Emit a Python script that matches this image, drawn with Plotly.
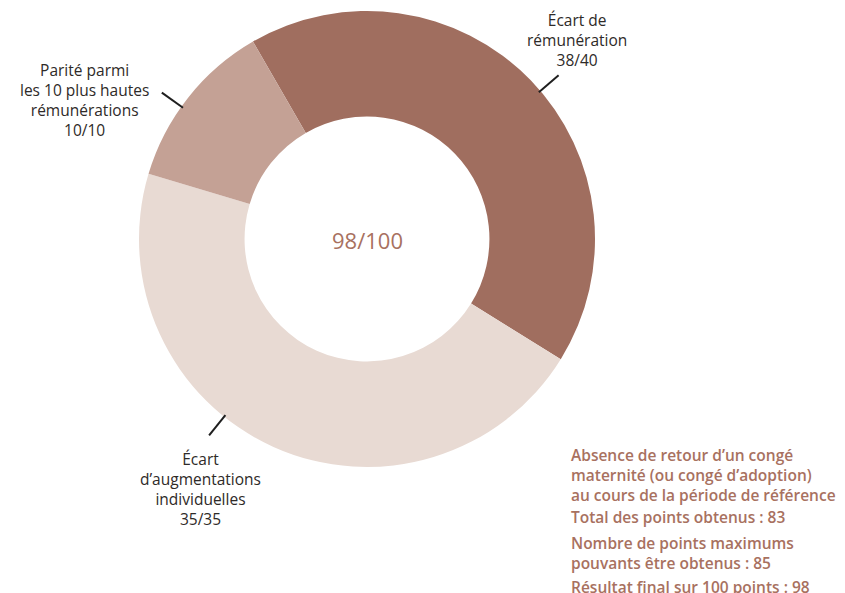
import math
import plotly.graph_objects as go

# ---- data -------------------------------------------------------------
categories = ["Écart de rémunération",
              "Écart d’augmentations individuelles",
              "Parité parmi les 10 plus hautes rémunérations"]
label_lines = [["Écart de", "rémunération"],
               ["Écart", "d’augmentations", "individuelles"],
               ["Parité parmi", "les 10 plus hautes", "rémunérations"]]
scores = [38, 35, 10]
max_points = [40, 35, 10]
# arc sizes as drawn in the reference picture
slice_sizes = [35, 38, 10]
center_text = "98/100"
info_paragraphs = [
    ["Absence de retour d’un congé",
     "maternité (ou congé d’adoption)",
     "au cours de la période de référence"],
    ["Total des points obtenus : 83"],
    ["Nombre de points maximums",
     "pouvants être obtenus : 85"],
    ["Résultat final sur 100 points : 98"],
]

# ---- layout constants --------------------------------------------------
W, H = 845, 593
CX, CY, R = 367, 239, 228          # donut centre / radius in px (from top-left)
HOLE = 0.537
ROT = -30
colors = ["#A06E5F", "#E8DAD3", "#C4A195"]
label_angles = [49.5, 218.8, 305.5]     # leader line directions (deg, clockwise from top)
label_pos = [(577, 40), (200, 489), (84.5, 100)]   # label block centres (px)
para_y = [475, 517, 552.5, 587]
TEXT_DARK = "#2E2A28"
TEXT_BROWN = "#A8715F"
FONT = "Open Sans"


def px(x):
    return x / W


def py(y):
    return 1 - y / H


fig = go.Figure()
fig.add_trace(go.Pie(
    labels=categories,
    values=slice_sizes,
    sort=False,
    direction="clockwise",
    rotation=ROT,
    hole=HOLE,
    marker=dict(colors=colors, line=dict(width=0)),
    textinfo="none",
    hoverinfo="label",
    showlegend=False,
    domain=dict(x=[px(CX - R), px(CX + R)], y=[py(CY + R), py(CY - R)]),
))

shapes = []
annotations = []
for lines, s, m, ang, (lx, ly) in zip(label_lines, scores, max_points, label_angles, label_pos):
    a = math.radians(ang)
    r1, r2 = R - 2, R + 24
    shapes.append(dict(type="line", xref="paper", yref="paper",
                       x0=px(CX + r1 * math.sin(a)), y0=py(CY - r1 * math.cos(a)),
                       x1=px(CX + r2 * math.sin(a)), y1=py(CY - r2 * math.cos(a)),
                       line=dict(color="#1f1f1f", width=2)))
    annotations.append(dict(
        text="<br>".join(lines + [f"{s}/{m}"]),
        x=px(lx), y=py(ly), xref="paper", yref="paper",
        xanchor="center", yanchor="middle", align="center", showarrow=False,
        borderpad=0,
        font=dict(family=FONT, size=15.5, color=TEXT_DARK, weight=500),
    ))

annotations.append(dict(text=center_text, x=px(CX), y=py(CY + 1), xref="paper", yref="paper",
                        showarrow=False, xanchor="center", yanchor="middle",
                        font=dict(family=FONT, size=22, color=TEXT_BROWN, weight=500)))

for lines, y in zip(info_paragraphs, para_y):
    annotations.append(dict(text="<br>".join(lines), x=px(570), y=py(y),
                            xref="paper", yref="paper", borderpad=0,
                            showarrow=False, xanchor="left", yanchor="middle", align="left",
                            font=dict(family=FONT, size=15.5, color=TEXT_BROWN, weight=600)))

fig.update_layout(
    width=W, height=H,
    margin=dict(l=0, r=0, t=0, b=0),
    paper_bgcolor="white", plot_bgcolor="white",
    shapes=shapes, annotations=annotations,
)

fig.write_html("out.html", config={"displayModeBar": False},
               post_script="document.body.style.margin='0';document.body.style.overflow='hidden';")
